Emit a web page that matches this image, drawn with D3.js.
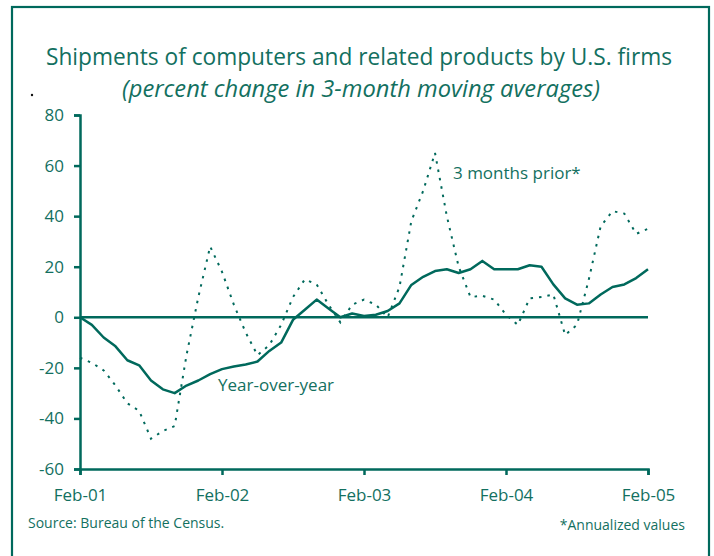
<!DOCTYPE html>
<html lang="en">
  <head>
    <meta charset="UTF-8">
    <title>Computer shipments</title>
    <script src="https://d3js.org/d3.v7.min.js"></script>
    <style>
      body { margin: 0; background: #fff; }
      text { font-family: "Open Sans", sans-serif; fill: #13705f; }
    </style>
  </head>
  <body>

<script>
  // month index 0 = Feb-01 ... 48 = Feb-05
  const tickMonths = [0, 12, 24, 36, 48];
  const tickLabels = ["Feb-01", "Feb-02", "Feb-03", "Feb-04", "Feb-05"];
  const yTicks = [-60, -40, -20, 0, 20, 40, 60, 80];

  const yearOverYear = [
    0, -3, -8, -11.5, -17, -19, -25, -28.5, -30, -27, -25, -22.5,
    -20.5, -19.5, -18.7, -17.5, -13.3, -10, -1, 3, 7, 3.5, 0, 1.5,
    0.5, 1, 2.5, 5.5, 12.8, 16, 18.3, 19, 17.5, 19, 22.3, 19,
    19, 19, 20.6, 20, 13, 7.5, 5, 5.5, 9, 12, 13, 15.5,
    19
  ];
  const threeMonthsPrior = [
    -16, -18, -21, -27, -34, -37, -48, -45, -43, -15, 8, 28,
    18, 5, -6, -15, -11, -3, 8, 15, 13, 5, -2, 5,
    7, 5, 0, 12, 38, 50, 65, 40, 20, 8, 8.5, 7,
    1, -3, 7.5, 8, 9, -7, -3, 15, 36, 42, 41, 33,
    35
  ];

  const w = 714;
  const h = 556;
  const teal = "#00695c";

  const xScale = d3.scaleLinear().domain([0, 48]).range([80, 648]);
  const yScale = d3.scaleLinear().domain([-60, 80]).range([469, 115]);

  const svg = d3.select("body").append("svg")
    .attr("width", w)
    .attr("height", h);

  // frame
  svg.append("rect")
    .attr("x", 12).attr("y", 7)
    .attr("width", 697).attr("height", 560)
    .attr("fill", "none")
    .attr("stroke", teal)
    .attr("stroke-width", 2.2);

  svg.append("circle").attr("cx", 32).attr("cy", 95).attr("r", 1.2).attr("fill", "#111");

  svg.append("text")
    .attr("x", 46).attr("y", 65)
    .attr("textLength", 626)
    .attr("lengthAdjust", "spacingAndGlyphs")
    .style("font-size", "23px")
    .text("Shipments of computers and related products by U.S. firms");

  svg.append("text")
    .attr("x", 122).attr("y", 97)
    .attr("textLength", 478)
    .attr("lengthAdjust", "spacingAndGlyphs")
    .style("font-size", "23px")
    .style("font-style", "italic")
    .text("(percent change in 3-month moving averages)");

  // zero line
  svg.append("line")
    .attr("x1", xScale(0)).attr("x2", xScale(48))
    .attr("y1", yScale(0)).attr("y2", yScale(0))
    .attr("stroke", teal).attr("stroke-width", 2.5);

  const xAxis = d3.axisBottom(xScale)
    .tickValues(tickMonths)
    .tickFormat((d, i) => tickLabels[i])
    .tickSizeOuter(0)
    .tickSize(6)
    .tickPadding(14);
  svg.append("g")
    .attr("class", "axis")
    .attr("transform", `translate(0, ${yScale(-60)})`)
    .call(xAxis);

  const yAxis = d3.axisLeft(yScale)
    .tickValues(yTicks)
    .tickFormat(d => String(d))
    .tickSizeOuter(0)
    .tickSize(6)
    .tickPadding(10);
  svg.append("g")
    .attr("class", "axis")
    .attr("transform", `translate(${xScale(0)}, 0)`)
    .call(yAxis);

  svg.selectAll(".axis path, .axis line")
    .attr("stroke", teal)
    .attr("stroke-width", 2.5);
  svg.selectAll(".axis text")
    .attr("fill", teal)
    .style("font-size", "17px")
    .style("font-family", "'Open Sans', sans-serif");

  const line = d3.line()
    .x((d, i) => xScale(i))
    .y(d => yScale(d));

  svg.append("path")
    .datum(threeMonthsPrior)
    .attr("d", line)
    .attr("fill", "none")
    .attr("stroke", teal)
    .attr("stroke-width", 2)
    .attr("stroke-dasharray", "2.5,6");

  svg.append("path")
    .datum(yearOverYear)
    .attr("d", line)
    .attr("fill", "none")
    .attr("stroke", teal)
    .attr("stroke-width", 2.5)
    .attr("stroke-linejoin", "round");

  svg.append("text")
    .attr("x", 453).attr("y", 179)
    .style("font-size", "17px")
    .text("3 months prior*");

  svg.append("text")
    .attr("x", 218).attr("y", 391)
    .style("font-size", "17px")
    .text("Year-over-year");

  svg.append("text")
    .attr("x", 28).attr("y", 528)
    .style("font-size", "14px")
    .text("Source: Bureau of the Census.");

  svg.append("text")
    .attr("x", 685).attr("y", 530)
    .attr("text-anchor", "end")
    .style("font-size", "14px")
    .text("*Annualized values");
</script>

  </body>
</html>
